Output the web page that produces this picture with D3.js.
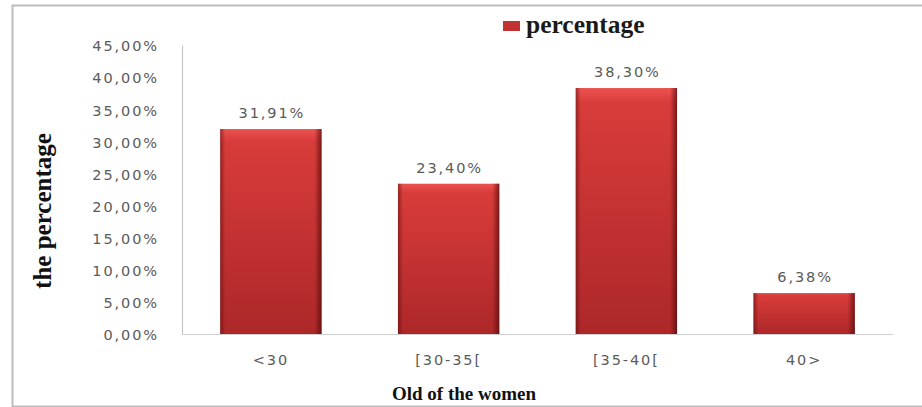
<!DOCTYPE html>
<html><head><meta charset="utf-8">
<script src="https://cdn.jsdelivr.net/npm/d3@7"></script>
<style>body{margin:0;background:#fff}svg{display:block}</style>
</head><body>
<script>
const categories = ["<30", "[30-35[", "[35-40[", "40>"];
const values = [31.91, 23.40, 38.30, 6.38];
const valueLabels = ["31,91%", "23,40%", "38,30%", "6,38%"];
const yTicks = [0, 5, 10, 15, 20, 25, 30, 35, 40, 45];
const seriesName = "percentage";

const W = 922, H = 407;
const svg = d3.select("body").append("svg").attr("width", W).attr("height", H);
const labFont = "DejaVu Sans, Verdana, sans-serif";
const labStyle = s => s.attr("fill", "#5a5a5a").attr("font-family", labFont).attr("font-size", 14.5).attr("letter-spacing", 1.9);

const defs = svg.append("defs");
const gv = defs.append("linearGradient").attr("id", "gv").attr("x1", 0).attr("y1", 0).attr("x2", 0).attr("y2", 1);
gv.append("stop").attr("offset", 0).attr("stop-color", "#ea5250");
gv.append("stop").attr("offset", 0.06).attr("stop-color", "#d83c3a");
gv.append("stop").attr("offset", 1).attr("stop-color", "#ad2729");
const gh = defs.append("linearGradient").attr("id", "gh").attr("x1", 0).attr("y1", 0).attr("x2", 1).attr("y2", 0);
gh.append("stop").attr("offset", 0).attr("stop-color", "#5a0c0c").attr("stop-opacity", 0.55);
gh.append("stop").attr("offset", 0.05).attr("stop-color", "#5a0c0c").attr("stop-opacity", 0);
gh.append("stop").attr("offset", 0.93).attr("stop-color", "#5a0c0c").attr("stop-opacity", 0);
gh.append("stop").attr("offset", 1).attr("stop-color", "#4a0808").attr("stop-opacity", 0.7);

// outer frame
svg.append("rect").attr("x", 12.5).attr("y", 5.5).attr("width", W).attr("height", H - 6)
  .attr("fill", "none").attr("stroke", "#bdbdbd").attr("stroke-width", 2);

const m = {left: 182, right: 893, top: 45, bottom: 334};
const x = d3.scaleBand().domain(categories).range([m.left, m.right]).paddingInner(0.43).paddingOuter(0.215);
const y = d3.scaleLinear().domain([0, 45]).range([m.bottom, m.top]);

// y axis
const yAxis = svg.append("g").attr("transform", `translate(${m.left},0)`)
  .call(d3.axisLeft(y).tickValues(yTicks).tickSize(0).tickPadding(23)
    .tickFormat(d => d.toFixed(2).replace(".", ",") + "%"));
yAxis.select(".domain").attr("stroke", "#bfbfbf");
yAxis.selectAll("text").call(labStyle).attr("dy", "0.4em");

// x axis
const xAxis = svg.append("g").attr("transform", `translate(0,${m.bottom})`)
  .call(d3.axisBottom(x).tickSize(0).tickPadding(21));
xAxis.select(".domain").attr("stroke", "#d0d0d0");
xAxis.selectAll("text").call(labStyle);

// bars
const bars = svg.append("g");
categories.forEach((c, i) => {
  const bx = x(c), bw = x.bandwidth(), by = y(values[i]), bh = y(0) - y(values[i]);
  bars.append("rect").attr("x", bx).attr("y", by).attr("width", bw).attr("height", bh).attr("fill", "url(#gv)");
  bars.append("rect").attr("x", bx).attr("y", by).attr("width", bw).attr("height", bh).attr("fill", "url(#gh)");
  svg.append("text").attr("x", bx + bw / 2 + 1).attr("y", by - 11).attr("text-anchor", "middle")
    .call(labStyle).text(valueLabels[i]);
});

// legend
svg.append("rect").attr("x", 503).attr("y", 21).attr("width", 17).attr("height", 10).attr("fill", "#c23230");
svg.append("text").attr("x", 526).attr("y", 33).attr("font-family", "Liberation Serif, Times New Roman, serif")
  .attr("font-weight", "bold").attr("font-size", 25.5).attr("fill", "#1a1a1a").text(seriesName);

// axis titles
svg.append("text").attr("transform", "translate(51,211) rotate(-90)").attr("text-anchor", "middle")
  .attr("font-family", "Liberation Serif, Times New Roman, serif").attr("font-weight", "bold").attr("font-size", 25)
  .attr("fill", "#111").text("the percentage");
svg.append("text").attr("x", 464).attr("y", 400).attr("text-anchor", "middle")
  .attr("font-family", "Liberation Serif, Times New Roman, serif").attr("font-weight", "bold").attr("font-size", 19)
  .attr("fill", "#111").text("Old of the women");
</script>
</body></html>
